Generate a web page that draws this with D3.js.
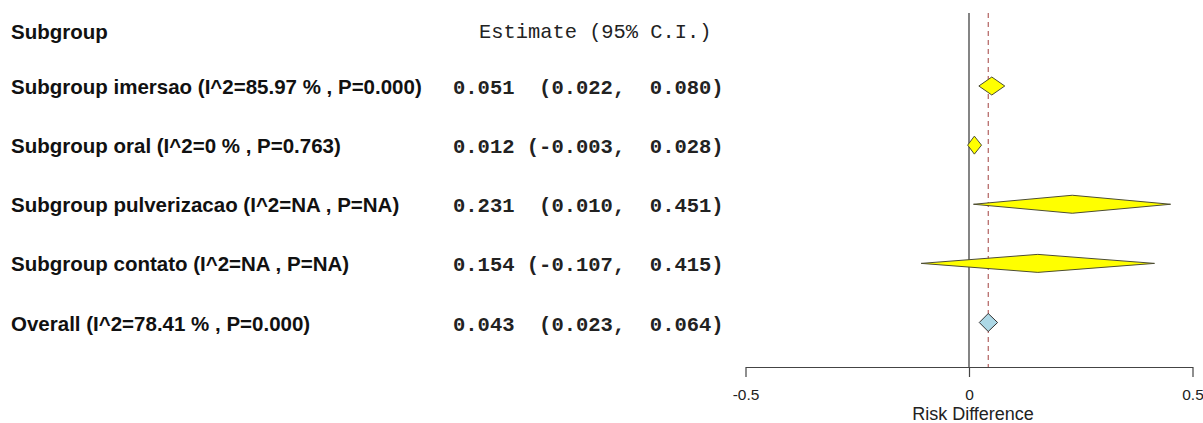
<!DOCTYPE html>
<html>
<head>
<meta charset="utf-8">
<script src="https://cdn.jsdelivr.net/npm/d3@7"></script>
<style>
  html, body { margin: 0; padding: 0; background: #fff; }
  svg { display: block; }
</style>
</head>
<body>
<svg id="chart" width="1203" height="423"></svg>
<script>
// Subgroup meta-analysis results (risk difference)
const labels = [
  "Subgroup imersao (I^2=85.97 % , P=0.000)",
  "Subgroup oral (I^2=0 % , P=0.763)",
  "Subgroup pulverizacao (I^2=NA , P=NA)",
  "Subgroup contato (I^2=NA , P=NA)",
  "Overall (I^2=78.41 % , P=0.000)"
];
const estimates = [0.051, 0.012, 0.231, 0.154, 0.043];
const lowerCI   = [0.022, -0.003, 0.010, -0.107, 0.023];
const upperCI   = [0.080, 0.028, 0.451, 0.415, 0.064];
const isOverall = [false, false, false, false, true];
const xTicks = [-0.5, 0, 0.5];
const headerLabel = "Subgroup";
const headerEstimate = "Estimate (95% C.I.)";
const axisTitle = "Risk Difference";

const svg = d3.select("#chart");

const x = d3.scaleLinear().domain([-0.5, 0.5]).range([745.5, 1192.5]);
const y = d3.scalePoint().domain(d3.range(labels.length)).range([86, 322.5]);
const plotTop = 13, axisY = 367;
const halfH = 9;

// plain ASCII hyphen for negative numbers
const fmt = v => d3.format(".3f")(v).replace("\u2212", "-");
const tickFmt = v => String(v);
const pad = (s, n) => s.padStart(n, " ");
const ciText = i => `${pad(fmt(estimates[i]), 5)} ${pad("(" + fmt(lowerCI[i]) + ",", 8)}  ${pad(fmt(upperCI[i]) + ")", 6)}`;

const sans = "Liberation Sans, Arial, sans-serif";
const mono = "Liberation Mono, Courier New, monospace";

// Header row
svg.append("text")
  .attr("x", 11).attr("y", 39)
  .attr("font-family", sans)
  .attr("font-weight", "bold").attr("font-size", 20.5)
  .attr("fill", "#111")
  .text(headerLabel);
svg.append("text")
  .attr("x", 479).attr("y", 38)
  .attr("font-family", mono)
  .attr("font-size", 20.4)
  .attr("fill", "#222")
  .style("white-space", "pre")
  .text(headerEstimate);

// Row labels and estimate text
const rows = svg.append("g");
rows.selectAll("text.lab").data(labels).join("text")
  .attr("class", "lab")
  .attr("x", 11).attr("y", (d, i) => y(i) + 8)
  .attr("font-family", sans)
  .attr("font-weight", "bold").attr("font-size", 20.5)
  .attr("fill", "#111")
  .text(d => d);
rows.selectAll("text.est").data(labels).join("text")
  .attr("class", "est")
  .attr("x", 453).attr("y", (d, i) => y(i) + 8)
  .attr("font-family", mono)
  .attr("font-weight", "bold").attr("font-size", 20.5)
  .attr("fill", "#222")
  .style("white-space", "pre")
  .text((d, i) => ciText(i));

// Reference line at zero and dashed line at the overall estimate
svg.append("line")
  .attr("x1", x(0)).attr("x2", x(0))
  .attr("y1", plotTop).attr("y2", axisY)
  .attr("stroke", "#333").attr("stroke-width", 1.2);
svg.append("line")
  .attr("x1", x(estimates[4])).attr("x2", x(estimates[4]))
  .attr("y1", plotTop).attr("y2", axisY)
  .attr("stroke", "#a3403f").attr("stroke-width", 1)
  .attr("stroke-dasharray", "5,4");

// Diamonds spanning each confidence interval
svg.append("g").selectAll("path").data(labels).join("path")
  .attr("d", (d, i) => {
    const cy = y(i);
    return `M${x(lowerCI[i])},${cy} L${x(estimates[i])},${cy - halfH} L${x(upperCI[i])},${cy} L${x(estimates[i])},${cy + halfH} Z`;
  })
  .attr("fill", (d, i) => isOverall[i] ? "#add8e6" : "#ffff00")
  .attr("stroke", (d, i) => isOverall[i] ? "#333" : "#4d4d33")
  .attr("stroke-width", 1);

// Bottom axis
const axis = d3.axisBottom(x).tickValues(xTicks).tickFormat(tickFmt).tickSize(10).tickSizeOuter(0);
const gAxis = svg.append("g").attr("transform", `translate(0,${axisY})`).call(axis);
gAxis.select(".domain").attr("stroke", "#444").attr("stroke-width", 1.2);
gAxis.selectAll(".tick line").attr("stroke", "#444").attr("stroke-width", 1.2);
gAxis.selectAll(".tick text")
  .attr("font-family", sans)
  .attr("font-size", 15.5).attr("fill", "#222").attr("dy", 0).attr("y", 33);

svg.append("text")
  .attr("x", x(0) + 4).attr("y", 420)
  .attr("text-anchor", "middle")
  .attr("font-family", sans)
  .attr("font-size", 18).attr("fill", "#222")
  .text(axisTitle);
</script>
</body>
</html>
